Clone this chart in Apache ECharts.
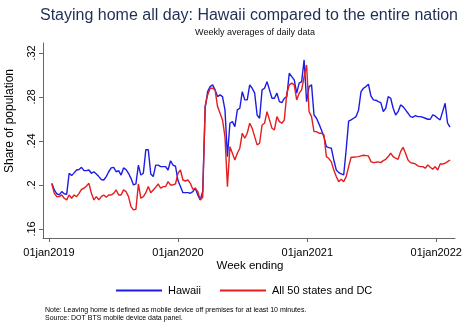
<!DOCTYPE html>
<html><head><meta charset="utf-8">
<script src="https://cdn.jsdelivr.net/npm/echarts@6/dist/echarts.min.js"></script>
<style>html,body{margin:0;padding:0;background:#fff}#c{width:468px;height:324px}</style>
</head><body><div id="c"></div>
<script>
// Weekly data, first week ending
const startDate = '2019-01-09';
const hawaii = [
0.2015,0.1955,0.192,0.191,0.194,0.192,0.1915,0.2106,0.2085,0.211,
0.2136,0.214,0.216,0.213,0.213,0.2136,0.2106,0.212,0.210,0.2076,
0.205,0.2045,0.2076,0.212,0.2155,0.216,0.212,0.213,0.209,0.2155,
0.214,0.2106,0.206,0.200,0.201,0.218,0.209,0.2106,0.232,0.232,
0.210,0.2076,0.218,0.218,0.2167,0.2167,0.2167,0.2136,0.222,0.218,
0.217,0.204,0.1985,0.193,0.193,0.193,0.1925,0.194,0.197,0.191,
0.1864,0.194,0.270,0.2848,0.2894,0.2909,0.2864,0.2803,0.2818,0.2803,
0.2682,0.2257,0.2561,0.2576,0.253,0.2682,0.2697,0.2848,0.2773,0.2773,
0.2909,0.2879,0.2834,0.2636,0.2606,0.2864,0.2879,0.2939,0.2864,0.2788,
0.2788,0.2834,0.2757,0.2748,0.2788,0.2803,0.3015,0.2985,0.2955,0.2834,
0.2925,0.2939,0.3136,0.2757,0.2894,0.2909,0.2636,0.2606,0.2555,0.25,
0.2439,0.2348,0.2339,0.2334,0.2227,0.2136,0.2112,0.210,0.2091,0.232,
0.258,0.2591,0.2606,0.2621,0.268,0.2848,0.2879,0.2894,0.2915,0.281,
0.2773,0.277,0.2757,0.2748,0.2667,0.2697,0.2803,0.2788,0.2697,0.2636,
0.2666,0.2727,0.2712,0.2682,0.2652,0.2621,0.2615,0.263,0.2621,0.2621,
0.2615,0.2606,0.2597,0.2597,0.2636,0.2627,0.2606,0.2591,0.2666,0.2742,
0.2561,0.2525
];
const allStates = [
0.2009,0.1924,0.1894,0.1894,0.191,0.1879,0.1864,0.1909,0.1879,0.1909,
0.1894,0.1924,0.196,0.197,0.1991,0.2015,0.1924,0.1864,0.1894,0.1864,
0.1894,0.1909,0.1889,0.1909,0.1909,0.1924,0.1955,0.1909,0.1909,0.1955,
0.194,0.1894,0.1803,0.1773,0.1779,0.2009,0.1879,0.1894,0.193,0.1985,
0.193,0.1955,0.198,0.2009,0.197,0.1985,0.1985,0.203,0.200,0.200,
0.2009,0.2106,0.2136,0.2045,0.2036,0.2045,0.2015,0.196,0.197,0.194,
0.1864,0.1888,0.272,0.2818,0.2879,0.2879,0.2864,0.2712,0.2652,0.2591,
0.2439,0.1985,0.2348,0.2288,0.2227,0.2288,0.2334,0.247,0.2424,0.247,
0.2561,0.2515,0.2439,0.2364,0.2379,0.2545,0.2561,0.2666,0.2591,0.2515,
0.25,0.2621,0.2576,0.2561,0.2591,0.2834,0.2909,0.2925,0.2909,0.2773,
0.2834,0.2864,0.2985,0.309,0.2666,0.2621,0.2485,0.2485,0.247,0.247,
0.2455,0.2257,0.224,0.221,0.2136,0.2076,0.203,0.2052,0.203,0.2076,
0.2167,0.2252,0.2252,0.2255,0.2257,0.2264,0.227,0.2267,0.2264,0.2212,
0.2203,0.2206,0.221,0.2203,0.2221,0.2233,0.2258,0.2288,0.2258,0.2243,
0.2233,0.2303,0.2342,0.2288,0.2227,0.2203,0.2197,0.2191,0.2173,0.2167,
0.2167,0.2152,0.2182,0.2161,0.2143,0.2167,0.2136,0.219,0.219,0.2197,
0.2212,0.2227
];
const xTickDates = ['2019-01-01','2020-01-01','2021-01-01','2022-01-01'];
const yTicks = [0.16, 0.20, 0.24, 0.28, 0.32];

const DAY = 86400000;
const t0 = Date.parse(startDate);
const toPairs = arr => arr.map((v, i) => [t0 + i * 7 * DAY, v]);
const xTicks = xTickDates.map(d => Date.parse(d));
const months = ['jan','feb','mar','apr','may','jun','jul','aug','sep','oct','nov','dec'];
const fmtDate = v => { const d = new Date(v); return String(d.getUTCDate()).padStart(2,'0') + months[d.getUTCMonth()] + d.getUTCFullYear(); };
const fmtY = v => String(+(+v).toFixed(2)).replace(/^0/, '');

const chart = echarts.init(document.getElementById('c'), null, {renderer: 'canvas'});
const FONT = 'Liberation Sans, Arial, Helvetica, sans-serif';
chart.setOption({
  animation: false,
  backgroundColor: '#fff',
  title: [{
    text: 'Staying home all day: Hawaii compared to the entire nation',
    left: 244, top: 3, textAlign: 'center',
    textStyle: {fontFamily: FONT, fontSize: 16, fontWeight: 'normal', color: '#1e2f55'}
  }, {
    text: 'Weekly averages of daily data',
    left: 250, top: 23, textAlign: 'center',
    textStyle: {fontFamily: FONT, fontSize: 9, fontWeight: 'normal', color: '#111'}
  }],
  grid: {left: 43, right: 13, top: 43, bottom: 86},
  xAxis: {
    type: 'value',
    min: Date.parse('2018-12-15'), max: Date.parse('2022-02-23'),
    axisLine: {show: true, lineStyle: {color: '#666', width: 1}},
    axisTick: {show: true, length: 4, customValues: xTicks, lineStyle: {color: '#666'}},
    axisLabel: {customValues: xTicks, formatter: fmtDate, fontFamily: FONT, fontSize: 11, color: '#000', margin: 9},
    splitLine: {show: false}
  },
  yAxis: {
    type: 'value', min: 0.1518, max: 0.329,
    axisLine: {show: true, lineStyle: {color: '#666', width: 1}},
    axisTick: {show: true, length: 4, customValues: yTicks, lineStyle: {color: '#666'}},
    axisLabel: {customValues: yTicks, formatter: fmtY, rotate: 90, fontFamily: FONT, fontSize: 11, color: '#000', margin: 6},
    splitLine: {show: false}
  },
  legend: {
    left: 111, top: 280, icon: 'rect', itemWidth: 46, itemHeight: 2, itemGap: 19,
    textStyle: {fontFamily: FONT, fontSize: 11, color: '#000', padding: [0,0,0,1]},
    data: ['Hawaii', 'All 50 states and DC']
  },
  graphic: [
    {type: 'text', x: 10, y: 121, rotation: Math.PI / 2,
     style: {text: 'Share of population', font: '12px ' + FONT, fill: '#000', textAlign: 'center', textVerticalAlign: 'middle'}},
    {type: 'text', x: 250, y: 266, style: {text: 'Week ending', font: '11.5px ' + FONT, fill: '#000', textAlign: 'center', textVerticalAlign: 'middle'}},
    {type: 'text', x: 45, y: 310, style: {text: 'Note: Leaving home is defined as mobile device off premises for at least 10 minutes.', font: '7px ' + FONT, fill: '#000', textVerticalAlign: 'middle'}},
    {type: 'text', x: 45, y: 318, style: {text: 'Source: DOT BTS mobile device data panel.', font: '7px ' + FONT, fill: '#000', textVerticalAlign: 'middle'}}
  ],
  series: [{
    name: 'Hawaii', type: 'line', data: toPairs(hawaii), showSymbol: false, symbol: 'none',
    lineStyle: {color: '#1c1ce6', width: 1.4}, itemStyle: {color: '#1c1ce6'}
  }, {
    name: 'All 50 states and DC', type: 'line', data: toPairs(allStates), showSymbol: false, symbol: 'none',
    lineStyle: {color: '#e41e1e', width: 1.4}, itemStyle: {color: '#e41e1e'}
  }]
});
</script></body></html>
